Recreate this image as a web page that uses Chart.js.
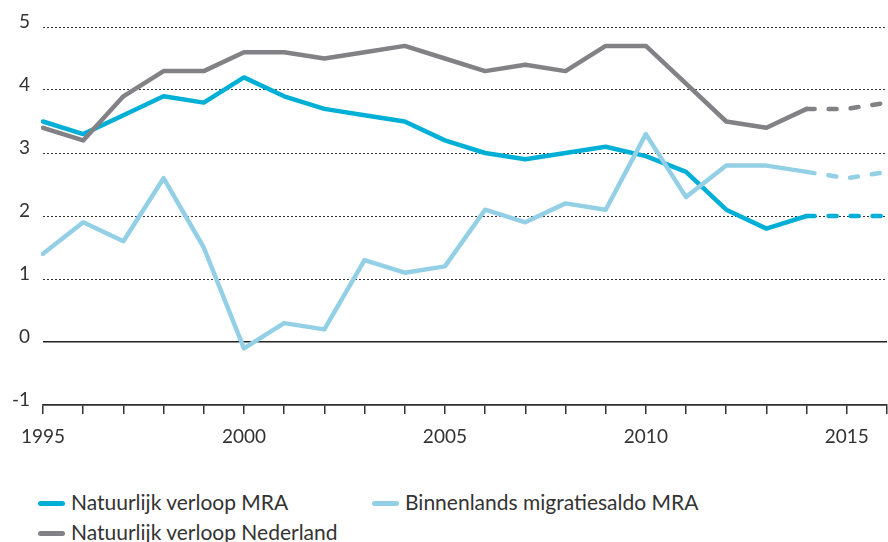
<!DOCTYPE html>
<html>
<head>
<meta charset="utf-8">
<script src="https://cdn.jsdelivr.net/npm/chart.js@4/dist/chart.umd.min.js"></script>
<style>
  body { margin: 0; background: #fff; font-family: Lato, "Open Sans", sans-serif; }
  #wrap { position: relative; width: 888px; height: 542px; }
  #chart { position: absolute; left: 0; top: 0; }
  .item { position: absolute; font-size: 21px; color: #333; white-space: nowrap; line-height: 24px; }
  .swatch { display: inline-block; width: 27px; height: 5px; border-radius: 3px; vertical-align: middle; margin-right: 6px; position: relative; top: -1px; }
</style>
</head>
<body>
<div id="wrap">
  <canvas id="chart" width="888" height="460"></canvas>
  <div id="legend"></div>
</div>
<script>
// years on the x axis
const years = ['1995', '1996', '1997', '1998', '1999', '2000', '2001', '2002', '2003', '2004', '2005',
  '2006', '2007', '2008', '2009', '2010', '2011', '2012', '2013', '2014', '2015', '2016'];
const xTickLabels = ['1995', '2000', '2005', '2010', '2015'];
const yTicks = [-1, 0, 1, 2, 3, 4, 5];

// series (values from 2014 on are dashed)
const natuurlijkMRA = [3.5, 3.3, 3.6, 3.9, 3.8, 4.2, 3.9, 3.7, 3.6, 3.5, 3.2,
  3.0, 2.9, 3.0, 3.1, 2.95, 2.7, 2.1, 1.8, 2.0, 2.0, 2.0];
const migratieMRA = [1.4, 1.9, 1.6, 2.6, 1.5, -0.1, 0.3, 0.2, 1.3, 1.1, 1.2,
  2.1, 1.9, 2.2, 2.1, 3.3, 2.3, 2.8, 2.8, 2.7, 2.6, 2.7];
const natuurlijkNL = [3.4, 3.2, 3.9, 4.3, 4.3, 4.6, 4.6, 4.5, 4.6, 4.7, 4.5,
  4.3, 4.4, 4.3, 4.7, 4.7, 4.1, 3.5, 3.4, 3.7, 3.7, 3.8];

const seriesLabels = ['Natuurlijk verloop MRA', 'Binnenlands migratiesaldo MRA', 'Natuurlijk verloop Nederland'];
const seriesColors = ['#00afd6', '#93d0e6', '#828286'];
const dashFrom = years.indexOf('2014');

const makeDataset = (label, data, color, order) => ({
  label: label,
  data: data,
  borderColor: color,
  backgroundColor: color,
  borderWidth: 4.5,
  pointRadius: 0,
  tension: 0,
  borderCapStyle: 'round',
  borderJoinStyle: 'round',
  order: order,
  segment: {
    borderDash: ctx => ctx.p0DataIndex >= dashFrom ? [8, 14] : undefined
  }
});

const ctx = document.getElementById('chart').getContext('2d');

new Chart(ctx, {
  type: 'line',
  data: {
    labels: years,
    datasets: [
      makeDataset(seriesLabels[0], natuurlijkMRA, seriesColors[0], 3),
      makeDataset(seriesLabels[1], migratieMRA, seriesColors[1], 2),
      makeDataset(seriesLabels[2], natuurlijkNL, seriesColors[2], 1)
    ]
  },
  options: {
    responsive: false,
    animation: false,
    layout: { padding: { top: 27, right: 1, left: 0, bottom: 0 } },
    plugins: {
      legend: { display: false },
      tooltip: { enabled: false }
    },
    scales: {
      x: {
        offset: false,
        afterFit: scale => {
          scale.height = 55;
          scale.paddingRight = 0;
          scale.paddingLeft = 0;
        },
        grid: { drawOnChartArea: false, drawTicks: true, tickLength: 9, color: '#333', lineWidth: 1.5 },
        border: { color: '#333', width: 1.5 },
        ticks: {
          autoSkip: false,
          maxRotation: 0,
          padding: 11,
          color: '#333',
          font: { family: 'Lato', size: 19 },
          callback: function (value) {
            const lbl = this.getLabelForValue(value);
            return xTickLabels.includes(lbl) ? lbl : '';
          }
        }
      },
      y: {
        min: yTicks[0],
        max: yTicks[yTicks.length - 1],
        afterFit: scale => { scale.width = 43; },
        afterBuildTicks: scale => { scale.ticks = yTicks.map(v => ({ value: v })); },
        grid: {
          drawTicks: false,
          color: c => c.tick && c.tick.value <= 0 ? '#222' : '#333',
          lineWidth: c => c.tick && c.tick.value <= 0 ? 1.5 : 1
        },
        border: {
          display: false,
          dash: c => c.tick && c.tick.value <= 0 ? [] : [2, 2]
        },
        ticks: {
          padding: 13,
          labelOffset: -5,
          color: '#333',
          font: { family: 'Lato', size: 19 }
        }
      }
    }
  }
});

// legend in two columns, like the original
const legendPos = [[38, 490], [372, 490], [38, 520]];
let legendHTML = '';
seriesLabels.forEach((label, i) => {
  legendHTML += `<div class="item" style="left:${legendPos[i][0]}px;top:${legendPos[i][1]}px">` +
    `<span class="swatch" style="background:${seriesColors[i]}"></span>${label}</div>`;
});
document.getElementById('legend').innerHTML = legendHTML;
</script>
</body>
</html>
